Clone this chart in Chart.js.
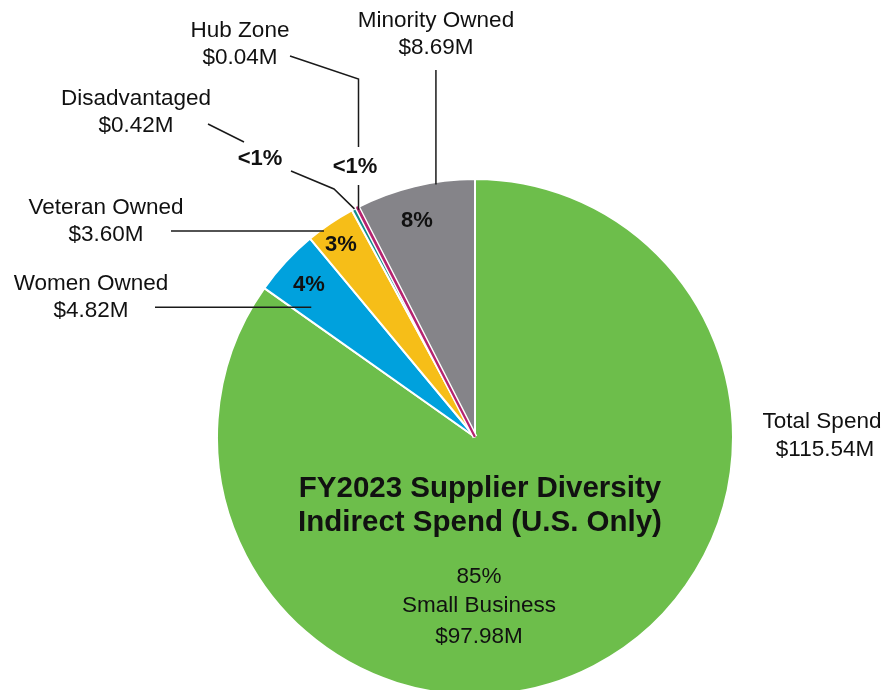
<!DOCTYPE html>
<html>
<head>
<meta charset="utf-8">
<title>FY2023 Supplier Diversity Indirect Spend</title>
<script src="https://cdn.jsdelivr.net/npm/chart.js@4/dist/chart.umd.min.js"></script>
<style>
  html, body { margin: 0; padding: 0; background: #fff; overflow: hidden; }
  #wrap { position: absolute; left: 0; top: 0; width: 888px; height: 700px; }
</style>
</head>
<body>
<div id="wrap"><canvas id="spend-chart" width="888" height="700"></canvas></div>
<script>
// spend by category, $M, clockwise from 12 o'clock
const categories = ['Small Business', 'Women Owned', 'Veteran Owned', 'Disadvantaged', 'Hub Zone', 'Minority Owned'];
const spend      = [97.98, 4.82, 3.60, 0.42, 0.04, 8.69];
const colors     = ['#6dbe4b', '#00a1dd', '#f6be18', '#138c8a', '#b5236f', '#858489'];
const totalLabel = ['Total Spend', '$115.54M'];
const titleLines = ['FY2023 Supplier Diversity', 'Indirect Spend (U.S. Only)'];

const FONT = '"Liberation Sans", Arial, Helvetica, sans-serif';
const total = spend.reduce((a, b) => a + b, 0);
const HUB = 4;

function pctText(v) {
  const p = v / total * 100;
  return p < 1 ? '<1%' : Math.round(p) + '%';
}
function money(v) {
  return '$' + v.toFixed(2) + 'M';
}

// callout text: slice index, text centre x, first line centre y
const callouts = [
  { i: 5, x: 436, y: 21 },
  { i: 4, x: 240, y: 31 },
  { i: 3, x: 136, y: 99 },
  { i: 2, x: 106, y: 208 },
  { i: 1, x: 91,  y: 284 }
];

// percent tags
const pctTags = [
  { i: 5, x: 417, y: 221 },
  { i: 4, x: 355, y: 167 },
  { i: 3, x: 260, y: 159 },
  { i: 2, x: 341, y: 245 },
  { i: 1, x: 309, y: 285 }
];

// leader lines: t = position along slice (start->end), rf = fraction of radius.
// 'up' draws a vertical line from the slice point to the given y values,
// 'pts' are fixed points leading into the slice point.
const leaders = [
  { i: 5, t: 0.675, rf: 0.99, up: [[70]] },
  { i: 4, t: 0.5, rf: 0.99, up: [[185], [147, 79]], tail: [290, 56] },
  { i: 3, t: 0.5, rf: 1.0, pts: [[291, 171], [334, 189]], extra: [[208, 124], [244, 142]] },
  { i: 2, t: 0.31, rf: 0.99, hfrom: 171 },
  { i: 1, t: 0.21, rf: 0.81, hfrom: 155 }
];

function slicePoint(arc, t, rf) {
  const a = arc.startAngle + (arc.endAngle - arc.startAngle) * t;
  const r = arc.outerRadius * rf;
  return { x: arc.x + Math.cos(a) * r, y: arc.y + Math.sin(a) * r };
}

// the hub zone slice is a hair-thin sliver: redraw it on top as a
// white-edged coloured stroke so it stays visible
const sliverPlugin = {
  id: 'hubSliver',
  afterDatasetsDraw(chart) {
    const arc = chart.getDatasetMeta(0).data[HUB];
    const orig = arc.options;
    const ctx = chart.ctx;
    ctx.save();
    arc.options = Object.assign({}, orig, { borderColor: '#ffffff', borderWidth: 5 });
    arc.draw(ctx);
    arc.options = Object.assign({}, orig, { borderColor: colors[HUB], borderWidth: 2.2 });
    arc.draw(ctx);
    arc.options = orig;
    ctx.restore();
  }
};

const labelPlugin = {
  id: 'calloutLabels',
  afterDraw(chart) {
    const ctx = chart.ctx;
    const arcs = chart.getDatasetMeta(0).data;
    ctx.save();

    // leader lines
    ctx.strokeStyle = '#1a1a1a';
    ctx.lineWidth = 1.5;
    leaders.forEach(l => {
      const p = slicePoint(arcs[l.i], l.t, l.rf);
      ctx.beginPath();
      if (l.up) {
        ctx.moveTo(p.x, p.y);
        ctx.lineTo(p.x, l.up[0][0]);
        for (let k = 1; k < l.up.length; k++) {
          ctx.moveTo(p.x, l.up[k][0]);
          ctx.lineTo(p.x, l.up[k][1]);
        }
        if (l.tail) ctx.lineTo(l.tail[0], l.tail[1]);
      } else if (l.pts) {
        ctx.moveTo(l.pts[0][0], l.pts[0][1]);
        for (let k = 1; k < l.pts.length; k++) ctx.lineTo(l.pts[k][0], l.pts[k][1]);
        ctx.lineTo(p.x, p.y);
        if (l.extra) {
          ctx.moveTo(l.extra[0][0], l.extra[0][1]);
          ctx.lineTo(l.extra[1][0], l.extra[1][1]);
        }
      } else {
        ctx.moveTo(l.hfrom, p.y);
        ctx.lineTo(p.x, p.y);
      }
      ctx.stroke();
    });

    ctx.fillStyle = '#111';
    ctx.textAlign = 'center';
    ctx.textBaseline = 'middle';

    // category callouts
    ctx.font = '22.5px ' + FONT;
    callouts.forEach(c => {
      ctx.fillText(categories[c.i], c.x, c.y);
      ctx.fillText(money(spend[c.i]), c.x, c.y + 27);
    });

    // total
    ctx.fillText(totalLabel[0], 822, 422);
    ctx.fillText(totalLabel[1], 825, 450);

    // percent tags
    ctx.font = 'bold 22px ' + FONT;
    pctTags.forEach(c => ctx.fillText(pctText(spend[c.i]), c.x, c.y));

    // title inside the big slice
    ctx.font = 'bold 29.5px ' + FONT;
    ctx.fillText(titleLines[0], 480, 489);
    ctx.fillText(titleLines[1], 480, 523);

    ctx.font = '22.5px ' + FONT;
    ctx.fillText(pctText(spend[0]), 479, 577);
    ctx.fillText(categories[0], 479, 606);
    ctx.fillText(money(spend[0]), 479, 637);

    ctx.restore();
  }
};

new Chart(document.getElementById('spend-chart'), {
  type: 'pie',
  data: {
    labels: categories,
    datasets: [{
      data: spend,
      backgroundColor: colors,
      borderColor: '#ffffff',
      borderWidth: 2,
      hoverBorderWidth: 2,
      hoverOffset: 0
    }]
  },
  options: {
    responsive: false,
    animation: false,
    layout: { padding: { top: 178, bottom: 4, left: 216, right: 154 } },
    plugins: {
      legend: { display: false },
      tooltip: { enabled: false }
    }
  },
  plugins: [sliverPlugin, labelPlugin]
});
</script>
</body>
</html>
